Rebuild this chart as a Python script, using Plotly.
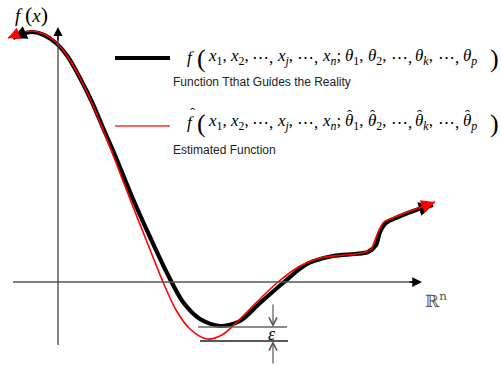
import plotly.graph_objects as go

# Sampled points of the true function f (black) and the estimate f-hat (red).
# x runs to the right of the f(x) axis, y is height above the R^n axis.
true_x = [-45, -36, -26, -14, -2, 10, 22, 34, 46, 59, 75, 92, 109, 125, 142, 162,
          182, 202, 225, 249, 275, 297, 310, 318, 322, 328, 340, 358, 375]
true_y = [244, 248, 250, 247, 239, 225, 204, 180, 152, 122, 83, 45, 9, -20, -37, -44,
          -39, -21, -1, 18, 26, 28, 30, 37, 50, 59, 65, 72, 77]

est_x = [-50, -38, -26, -14, -2, 10, 22, 34, 46, 57, 72, 89, 105, 118, 132, 149,
         164, 177, 192, 206, 220, 242, 262, 287, 304, 313, 317, 321, 326, 337, 358, 377]
est_y = [244, 249, 251, 248, 240, 225, 204, 179, 150, 122, 83, 40, 0, -28, -47, -57,
         -53, -42, -27, -13, 0, 16, 24, 27, 29, 33, 42, 52, 60, 65, 73, 80]

# Formula tokens: arguments and parameters of the model
args_true = ["<i>x</i><sub>1</sub>,", "<i>x</i><sub>2</sub>,", "⋯,", "<i>x</i><sub><i>j</i></sub>,",
             "⋯,", "<i>x</i><sub><i>n</i></sub>;", "<i>θ</i><sub>1</sub>,", "<i>θ</i><sub>2</sub>,",
             "⋯,", "<i>θ</i><sub><i>k</i></sub>,", "⋯,", "<i>θ</i><sub><i>p</i></sub>"]
hatted = [False, False, False, False, False, False, True, True, False, True, False, True]
# horizontal offset of each token after the opening parenthesis
token_dx = [21, 43, 65, 90, 110, 135, 158, 181, 204, 228, 251, 276]

SERIF = "Liberation Serif"
SANS = "Liberation Sans"

fig = go.Figure()
fig.add_trace(go.Scatter(x=true_x, y=true_y, mode="lines",
                         line=dict(color="black", width=4.2, shape="spline", smoothing=0.85),
                         hoverinfo="skip"))
fig.add_trace(go.Scatter(x=est_x, y=est_y, mode="lines",
                         line=dict(color="#ff0000", width=1.6, shape="spline", smoothing=0.85),
                         hoverinfo="skip"))

ann = []


def arrow(x0, y0, x1, y1, color, width, size, head=2):
    ann.append(dict(x=x1, y=y1, ax=x0, ay=y0, xref="x", yref="y", axref="x", ayref="y",
                    showarrow=True, arrowhead=head, arrowsize=size, arrowwidth=width,
                    arrowcolor=color, standoff=0, startstandoff=0, text=""))


# arrowheads at both ends of each curve
arrow(true_x[1], true_y[1], true_x[0], true_y[0], "black", 2.5, 1.1)
arrow(true_x[-2], true_y[-2], true_x[-1], true_y[-1], "black", 3, 0.95)
arrow(est_x[1], est_y[1], est_x[0], est_y[0], "#ff0000", 1.6, 1.5)
arrow(est_x[-2], est_y[-2], est_x[-1], est_y[-1], "#ff0000", 1.6, 1.7)

shapes = []
# axes
shapes.append(dict(type="line", x0=-45, y0=0, x1=356, y1=0, line=dict(color="#555", width=1.5)))
arrow(350, 0, 364, 0, "black", 1.5, 1.3)
shapes.append(dict(type="line", x0=0, y0=-63, x1=0, y1=248, line=dict(color="#444", width=1.3)))
arrow(0, 240, 0, 255, "black", 1.3, 1.4)

# epsilon gap between the two minima
top_min = min(true_y) - 1
bot_min = min(est_y) - 2
shapes.append(dict(type="line", x0=140, y0=top_min, x1=229, y1=top_min,
                   line=dict(color="#666", width=1.3)))
shapes.append(dict(type="line", x0=142, y0=bot_min, x1=230, y1=bot_min,
                   line=dict(color="#222", width=1.3)))
arrow(215, -21, 215, top_min, "#555", 1.2, 1.3, head=5)
arrow(215, -83, 215, bot_min, "#555", 1.2, 1.3, head=5)

# legend samples
shapes.append(dict(type="line", x0=57, y0=224, x1=112, y1=224, line=dict(color="black", width=4)))
shapes.append(dict(type="line", x0=57, y0=156, x1=112, y1=156, line=dict(color="#ff3030", width=1.5)))


def label(x, y, text, font, size, color="black", xanchor="left"):
    ann.append(dict(x=x, y=y, xref="x", yref="y", text=text, showarrow=False,
                    xanchor=xanchor, yanchor="middle", borderpad=0,
                    font=dict(family=font, size=size, color=color)))


def formula(y, with_hats):
    x0 = 128
    label(x0, y, "<i>f</i>", SERIF, 17)
    if with_hats:
        label(x0 + 6.5, y + 9, "ˆ", SERIF, 15, xanchor="center")
    label(x0 + 10, y - 1, "(", SERIF, 26)
    for tok, dx, hat in zip(args_true, token_dx, hatted):
        xi = x0 + dx
        label(xi, y, tok, SERIF, 17)
        if with_hats and hat:
            label(xi + 5.5, y + 7, "ˆ", SERIF, 15, xanchor="center")
    label(x0 + 303, y - 1, ")", SERIF, 26)


formula(225, False)
label(114, 200, "Function Tthat Guides the Reality", SANS, 12, "#222")
formula(160, True)
label(114, 132, "Estimated Function", SANS, 12, "#222")
label(-27, 268, '<i>f</i> <span style="font-size:22px">(</span><i>x</i><span style="font-size:22px">)</span>',
      SERIF, 19, xanchor="center")
label(214, -52, "<i>ε</i>", SERIF, 18, xanchor="center")
label(378, -18, "ℝ<sup>n</sup>", "DejaVu Serif", 17, "#555", xanchor="center")

fig.update_layout(
    width=501, height=366,
    margin=dict(l=0, r=0, t=0, b=0),
    paper_bgcolor="white", plot_bgcolor="white",
    showlegend=False,
    xaxis=dict(range=[-58, 443], visible=False, fixedrange=True),
    yaxis=dict(range=[-84, 282], visible=False, fixedrange=True),
    shapes=shapes, annotations=ann,
)

fig.write_html("out.html")
